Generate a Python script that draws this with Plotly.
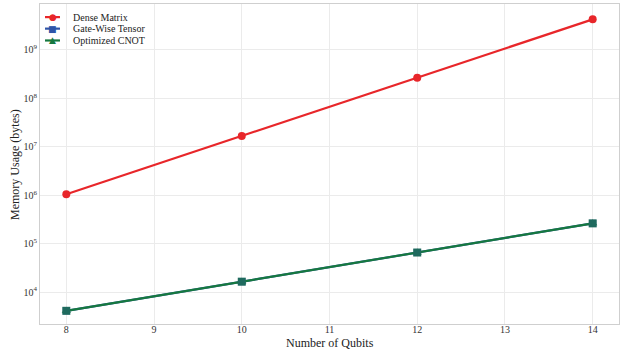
import plotly.graph_objects as go

qubits = [8, 10, 12, 14]
dense_matrix = [1048576, 16777216, 268435456, 4294967296]
gate_wise = [4096, 16384, 65536, 262144]
optimized_cnot = [4096, 16384, 65536, 262144]

series_names = ["Dense Matrix", "Gate-Wise Tensor", "Optimized CNOT"]
y_tickvals = [1e4, 1e5, 1e6, 1e7, 1e8, 1e9]
y_ticktext = ["10<sup>4</sup>", "10<sup>5</sup>", "10<sup>6</sup>", "10<sup>7</sup>", "10<sup>8</sup>", "10<sup>9</sup>"]
x_tickvals = [8, 9, 10, 11, 12, 13, 14]
x_title = "Number of Qubits"
y_title = "Memory Usage (bytes)"

RED = "#e8262a"
BLUE = "#2f55a8"
GREEN = "#16783f"
SERIF = "Liberation Serif"

fig = go.Figure()
fig.add_trace(go.Scatter(x=qubits, y=dense_matrix, name=series_names[0], mode="lines+markers",
                         line=dict(color=RED, width=2.2), marker=dict(symbol="circle", size=8, color=RED)))
fig.add_trace(go.Scatter(x=qubits, y=gate_wise, name=series_names[1], mode="lines+markers",
                         line=dict(color=BLUE, width=2.2), marker=dict(symbol="square", size=7, color=BLUE)))
fig.add_trace(go.Scatter(x=qubits, y=optimized_cnot, name=series_names[2], mode="lines+markers",
                         line=dict(color=GREEN, width=2.2), marker=dict(symbol="triangle-up", size=8, color=GREEN)))
fig.add_trace(go.Scatter(x=qubits, y=optimized_cnot, showlegend=False, mode="markers", hoverinfo="skip",
                         marker=dict(symbol="square", size=8, color="#1f6a5e")))

axis_common = dict(showline=True, linecolor="#cfcfcf", linewidth=1, mirror=True,
                   showgrid=True, gridcolor="#ebebeb", gridwidth=1, zeroline=False, automargin=False,
                   tickfont=dict(family=SERIF, size=10, color="#333333"), ticks="")

fig.update_xaxes(range=[7.7, 14.3], tickvals=x_tickvals, ticklabelstandoff=-4, **axis_common)
fig.update_yaxes(type="log", range=[3.34, 9.95], tickvals=y_tickvals, ticktext=y_ticktext, **axis_common)

# Axis titles placed as annotations
fig.add_annotation(xref="paper", yref="paper", x=0.5, y=-0.0594, text=x_title, showarrow=False,
                   font=dict(family=SERIF, size=12, color="#222222"), xanchor="center", yanchor="middle")
fig.add_annotation(xref="paper", yref="paper", x=-0.0432, y=0.5, text=y_title, showarrow=False, textangle=-90,
                   font=dict(family=SERIF, size=12, color="#222222"), xanchor="center", yanchor="middle")

# Compact legend drawn with shapes and annotations (top-left, inside the plot)
legend_colors = [RED, BLUE, GREEN]
legend_glyphs = ["●", "■", "▲"]
legend_y = [0.959, 0.923, 0.886]
for name, col, glyph, yy in zip(series_names, legend_colors, legend_glyphs, legend_y):
    fig.add_shape(type="line", xref="paper", yref="paper", x0=0.0086, x1=0.0345, y0=yy, y1=yy,
                  line=dict(color=col, width=2.2))
    fig.add_annotation(xref="paper", yref="paper", x=0.0216, y=yy, text=glyph, showarrow=False,
                       font=dict(family="DejaVu Sans", size=9, color=col), xanchor="center", yanchor="middle")
    fig.add_annotation(xref="paper", yref="paper", x=0.0535, y=yy, text=name, showarrow=False,
                       font=dict(family=SERIF, size=10, color="#222222"), xanchor="left", yanchor="middle")

fig.update_layout(
    width=622, height=351,
    margin=dict(l=40, r=3, t=4, b=27),
    paper_bgcolor="white", plot_bgcolor="white",
    font=dict(family=SERIF, color="#222222"),
    showlegend=False,
)

fig.write_html("out.html")
